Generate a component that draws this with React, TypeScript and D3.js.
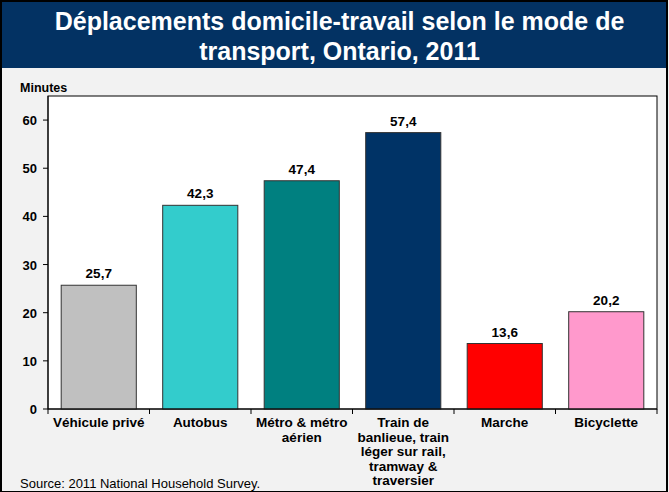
import React from "react";
import * as d3 from "d3";

const categories: string[][] = [
  ["Véhicule privé"],
  ["Autobus"],
  ["Métro & métro", "aérien"],
  ["Train de", "banlieue, train", "léger sur rail,", "tramway &", "traversier"],
  ["Marche"],
  ["Bicyclette"],
];
const values = [25.7, 42.3, 47.4, 57.4, 13.6, 20.2];
const colors = ["#c0c0c0", "#33cccc", "#008080", "#003366", "#ff0000", "#ff99cc"];
const yTicks = [0, 10, 20, 30, 40, 50, 60];
const titleLines = ["Déplacements domicile-travail selon le mode de", "transport, Ontario, 2011"];

const W = 669, H = 492;
const plot = { left: 48, right: 657, top: 96, bottom: 409 };
const font = "Arial, 'Liberation Sans', sans-serif";

export default function App() {
  const x = d3.scaleBand<number>().domain(d3.range(values.length)).range([plot.left, plot.right]).paddingInner(0.26).paddingOuter(0.13);
  const xb = d3.scaleBand<number>().domain(d3.range(values.length)).range([plot.left, plot.right]);
  const y = d3.scaleLinear().domain([0, 65]).range([plot.bottom, plot.top]);
  const fmt = (v: number) => v.toFixed(1).replace(".", ",");
  return (
    <svg width={W} height={H} style={{ position: "absolute", left: 0, top: 0 }} fontFamily={font}>
      <rect x={0} y={0} width={W} height={H} fill="#f2f2f2" />
      <rect x={1} y={1} width={W - 3} height={67} fill="#033263" />
      {titleLines.map((t, i) => (
        <text key={i} x={W / 2 + 5} y={30 + i * 29.5} fill="#fff" fontSize={25} fontWeight="bold" textAnchor="middle">{t}</text>
      ))}
      <text x={20} y={92} fontSize={12.5} fontWeight="bold">Minutes</text>
      <rect x={plot.left} y={plot.top} width={plot.right - plot.left} height={plot.bottom - plot.top} fill="#fff" stroke="#000" strokeWidth={1} />
      {values.map((v, i) => (
        <g key={i}>
          <rect x={x(i)} y={y(v)} width={x.bandwidth()} height={y(0) - y(v)} fill={colors[i]} stroke="#333" strokeWidth={1} />
          <text x={x(i)! + x.bandwidth() / 2} y={y(v) - 7} fontSize={13.5} fontWeight="bold" textAnchor="middle">{fmt(v)}</text>
          {categories[i].map((l, j) => (
            <text key={j} x={xb(i)! + xb.bandwidth() / 2} y={427 + j * 14.5} fontSize={13.5} fontWeight="bold" textAnchor="middle">{l}</text>
          ))}
        </g>
      ))}
      <line x1={plot.left} x2={plot.right} y1={plot.bottom} y2={plot.bottom} stroke="#000" />
      <line x1={plot.left} x2={plot.left} y1={plot.top} y2={plot.bottom} stroke="#000" />
      {yTicks.map((t) => (
        <g key={t}>
          <line x1={plot.left - 5} x2={plot.left} y1={y(t)} y2={y(t)} stroke="#000" />
          <text x={plot.left - 11} y={y(t) + 5} fontSize={13} fontWeight="bold" textAnchor="end">{t}</text>
        </g>
      ))}
      {d3.range(values.length + 1).map((i) => {
        const xx = i < values.length ? xb(i)! : plot.right;
        return <line key={i} x1={xx} x2={xx} y1={plot.bottom} y2={plot.bottom + 5} stroke="#000" />;
      })}
      <text x={20} y={488} fontSize={13}>Source: 2011 National Household Survey.</text>
      <rect x={1} y={1} width={W - 3} height={H - 1} fill="none" stroke="#000" strokeWidth={2} />
    </svg>
  );
}
